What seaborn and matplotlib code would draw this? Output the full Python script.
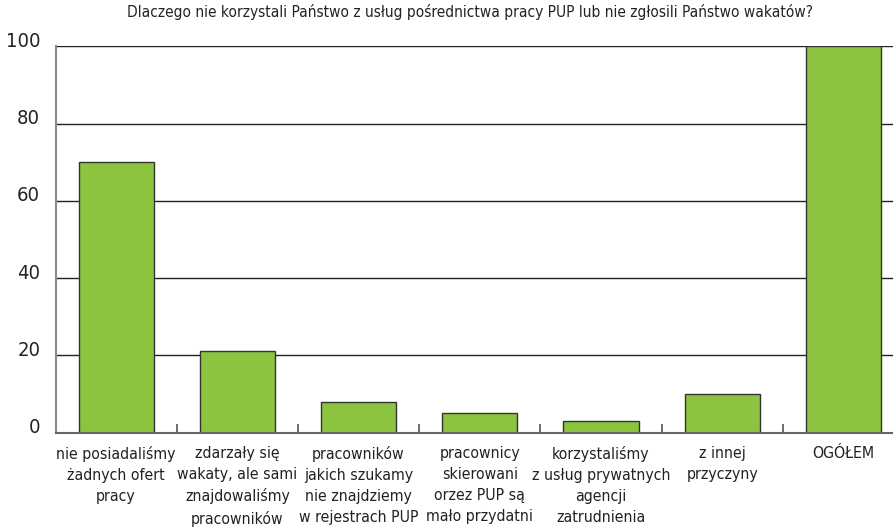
import matplotlib.pyplot as plt
import matplotlib.transforms as mtransforms
import seaborn as sns
import pandas as pd
import numpy as np

# data
categories = [
    "nie posiadaliśmy\nżadnych ofert\npracy",
    "zdarzały się\nwakaty, ale sami\nznajdowaliśmy\npracowników",
    "pracowników\njakich szukamy\nnie znajdziemy\nw rejestrach PUP",
    "pracownicy\nskierowani\norzez PUP są\nmało przydatni",
    "korzystaliśmy\nz usług prywatnych\nagencji\nzatrudnienia",
    "z innej\nprzyczyny",
    "OGÓŁEM",
]
values = [70, 21, 8, 5, 3, 10, 100]
y_ticks = [0, 20, 40, 60, 80, 100]
title = "Dlaczego nie korzystali Państwo z usług pośrednictwa pracy PUP lub nie zgłosili Państwo wakatów?"

sns.set_theme(style="white")
plt.rcParams['font.family'] = ['Liberation Sans Narrow', 'DejaVu Sans']
plt.rcParams['font.stretch'] = 'condensed'
text_color = "#222222"

df = pd.DataFrame({"category": categories, "value": values})

fig = plt.figure(figsize=(8.93, 5.27), dpi=100)
ax = fig.add_axes([55.5 / 893, 0.1793, (904 - 55.5) / 893, 0.9118 - 0.1793])

sns.barplot(data=df, x="category", y="value", color="#8cc43f", saturation=1,
            edgecolor="#333333", linewidth=1.0, width=0.62, ax=ax)

ax.set_ylim(0, 100)
ax.set_xlim(-0.5, len(categories) - 0.5)
ax.set_yticks(y_ticks)
ax.set_yticklabels([str(v) for v in y_ticks], fontsize=14.5, color=text_color)
ax.yaxis.grid(True, color="#222222", linewidth=1.0)
ax.set_axisbelow(True)
ax.tick_params(axis="y", length=0, pad=11)

# shift y labels slightly above their gridline
offset = mtransforms.ScaledTranslation(0, 7 / 100, fig.dpi_scale_trans)
for lbl in ax.get_yticklabels():
    lbl.set_transform(lbl.get_transform() + offset)

# category labels under the bars, small upward ticks between categories
ax.set_xticks(range(len(categories)))
ax.set_xticklabels(categories, fontsize=11.3, color=text_color, linespacing=1.48)
ax.tick_params(axis="x", which="major", length=0, pad=10)
ax.set_xticks(np.arange(0.5, len(categories) - 0.5, 1), minor=True)
ax.tick_params(axis="x", which="minor", direction="in", length=6.5,
               width=1.2, color="#555555", bottom=True)
for lbl in ax.get_xticklabels():
    lbl.set_verticalalignment("top")

ax.set_xlabel("")
ax.set_ylabel("")

for side in ["top", "right"]:
    ax.spines[side].set_visible(False)
ax.spines["left"].set_color("#8a8a8a")
ax.spines["left"].set_linewidth(1.5)
ax.spines["bottom"].set_color("#666666")
ax.spines["bottom"].set_linewidth(1.5)

fig.text(470 / 893, 1 - 12.5 / 527, title, ha="center", va="center",
         fontsize=11.1, color=text_color)

fig.savefig("out.png", dpi=100)
